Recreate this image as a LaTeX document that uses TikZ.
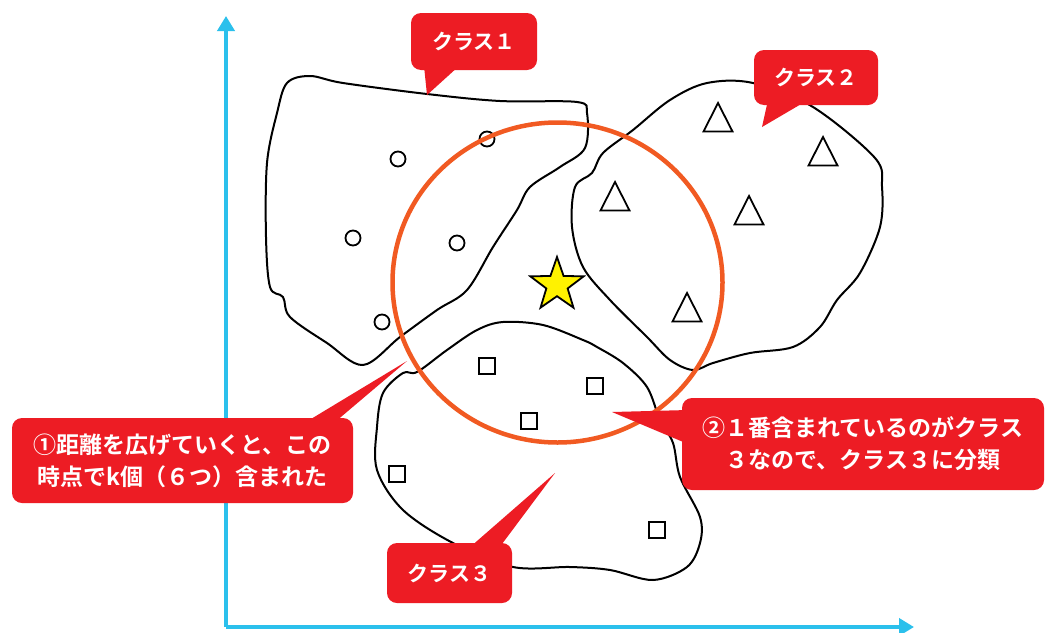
\documentclass[tikz,border=0pt]{standalone}
\usepackage{fontspec}
\newfontfamily\jp{Noto Sans CJK JP}[BoldFont={Noto Sans CJK JP Bold}]
\usetikzlibrary{arrows.meta,shapes.geometric}
\definecolor{cred}{HTML}{ED1C24}
\definecolor{corange}{HTML}{F15A22}
\definecolor{cblue}{HTML}{2BC0EC}
\definecolor{cyel}{HTML}{FFF200}
\tikzset{
  axis/.style={cblue, line width=4pt, -{Triangle[width=17pt,length=15pt]}},
  blob/.style={black, line width=2pt, line join=round},
  mark1/.style={black, line width=1.8pt},
  callout/.style={fill=cred, rounded corners=10pt, text=white, font=\jp\bfseries\fontsize{23pt}{32pt}\selectfont, align=center, inner sep=0pt},
  classlabel/.style={callout, font=\jp\bfseries\fontsize{21pt}{26pt}\selectfont},
  pointer/.style={fill=cred},
}
\begin{document}
\begin{tikzpicture}[x=1pt,y=-1pt]
\useasboundingbox (0,0) rectangle (1046,632);
\fill[white] (0,0) rectangle (1046,632);

% axes
\coordinate (origin) at (226,627);
\coordinate (ytip) at (226,16);
\coordinate (xtip) at (914,627);
\draw[axis] (origin) -- (ytip);
\draw[axis] (origin) -- (xtip);

% class 1 blob
\draw[blob] plot[smooth cycle, tension=0.55] coordinates {
 (287,83) (310,76) (343,83) (427,94) (500,101) (577,102) (587,113) (585,148)
 (560,167) (530,187) (517,210) (493,247) (467,290) (437,310) (400,337)
 (363,365) (327,343) (290,317) (283,297) (270,287) (266,237) (267,163) (277,113)};

% class 2 blob
\draw[blob] plot[smooth cycle, tension=0.55] coordinates {
 (707,83) (753,83) (813,107) (875,158) (882,187) (880,227) (860,273) (837,300)
 (820,327) (793,347) (750,353) (713,363) (693,370) (670,360) (647,337) (610,300)
 (583,267) (572,227) (575,187) (592,173) (603,153) (633,130) (670,100)};

% class 3 blob
\draw[blob] plot[smooth cycle, tension=0.55] coordinates {
 (503,322) (543,325) (583,340) (597,347) (623,363) (647,387) (660,420) (673,443)
 (680,477) (700,517) (700,543) (687,567) (653,580) (610,570) (570,567) (513,567)
 (453,543) (403,510) (377,470) (377,427) (383,393) (403,373) (417,372) (447,350) (477,330)};

% class 1 points (circles)
\foreach \p in {(398,159),(487,139),(353,238),(457,243),(382,322)}
  \draw[mark1] \p circle[radius=7.5pt];

% class 2 points (triangles)
\foreach \x/\y in {718/103, 823/137, 615/182, 749/196, 687/293}
  \draw[mark1, line join=miter] (\x,\y) -- (\x-14.5,\y+28.5) -- (\x+14.5,\y+28.5) -- cycle;

% class 3 points (squares)
\foreach \x/\y in {487/366, 595/386, 529/421, 397/474, 657/530}
  \draw[mark1] (\x-8,\y-8) rectangle (\x+8,\y+8);

% search circle
\draw[corange, line width=4.5pt] (557.5,282.5) ellipse[x radius=165pt, y radius=160pt];

% query star
\node[star, star points=5, star point ratio=2.5, minimum size=56pt, inner sep=0pt,
      fill=cyel, draw=black, line width=1.8pt, line join=miter] (query) at (557,285) {};

% callouts
\node[classlabel, minimum width=126pt, minimum height=57pt] (c1) at (474,41.5) {クラス１};
\coordinate (t1) at (427,95);
\fill[pointer] (424,66) -- (t1) -- (459,66) -- cycle;

\node[classlabel, minimum width=124pt, minimum height=55pt] (c2) at (816,77.5) {クラス２};
\coordinate (t2) at (762,127);
\fill[pointer] (768,100) -- (t2) -- (808,100) -- cycle;

\node[classlabel, minimum width=125pt, minimum height=60pt] (c3) at (449.5,573) {クラス３};
\coordinate (t3) at (555,473);
\fill[pointer] (469,548) -- (t3) -- (499,548) -- cycle;

\node[callout, minimum width=341pt, minimum height=85pt] (n1) at (182.5,460.5)
  {①距離を広げていくと、この\\時点でk個（６つ）含まれた};
\coordinate (t4) at (407,361);
\fill[pointer] (306,422) -- (t4) -- (335,422) -- cycle;

\node[callout, minimum width=362pt, minimum height=92pt] (n2) at (863,444)
  {②１番含まれているのがクラス\\３なので、クラス３に分類};
\coordinate (t5) at (612,412);
\fill[pointer] (t5) -- (688,410) -- (688,444) -- cycle;
\end{tikzpicture}
\end{document}
